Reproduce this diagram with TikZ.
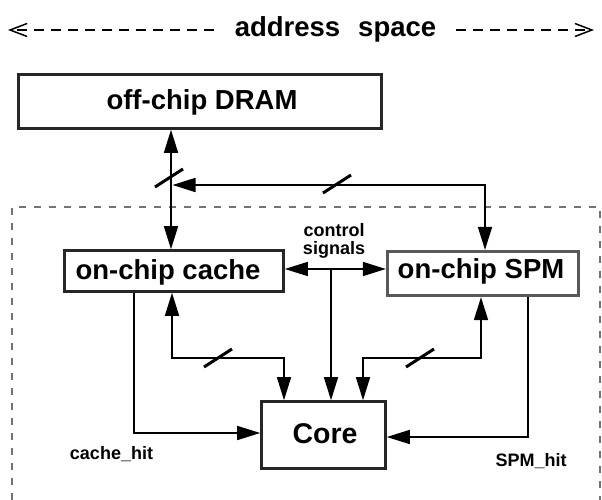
\documentclass[tikz,border=0pt]{standalone}
\usepackage{fontspec}
\setmainfont{Liberation Sans}
\usetikzlibrary{arrows.meta}
\begin{document}
\begin{tikzpicture}[x=1pt,y=-1pt,
  box/.style={draw=black!85, line width=2.6pt, fill=white, inner sep=0pt},
  spmbox/.style={box, draw=black!65, line width=3.2pt},
  big/.style={font=\fontsize{27.5}{30}\selectfont\bfseries, inner sep=0pt, anchor=base},
  small/.style={font=\fontsize{18}{18}\selectfont\bfseries, inner sep=0pt, align=center},
  conn/.style={line width=1.6pt},
  tipend/.style={-{Triangle[length=23pt,width=14pt]}},
  tipboth/.style={{Triangle[length=23pt,width=14pt]}-{Triangle[length=23pt,width=14pt]}},
  slashmark/.style={line width=3pt},
  frame/.style={draw=black!55, line width=1.1pt, dash pattern=on 7pt off 8pt},
  spacearrow/.style={line width=1.5pt, dash pattern=on 10pt off 7pt, -{Straight Barb[length=17pt,width=13pt,line width=1.5pt]}},
]
\useasboundingbox (0,0) rectangle (602,500);

% dashed frame (address space on chip)
\draw[frame] (12,500) -- (12,207) -- (600,207) -- (600,500);

% title
\node[font=\fontsize{27.5}{30}\selectfont\bfseries, inner sep=0pt, anchor=base] (addr) at (335.5,37) {address\hspace{18pt}space};
\coordinate (lstart) at (214,30);
\coordinate (lend) at (8,30);
\coordinate (rstart) at (456,30);
\coordinate (rend) at (594,30);
\draw[spacearrow] (lstart) -- (lend);
\draw[spacearrow] (rstart) -- (rend);

% boxes
\node[box, minimum width=363pt, minimum height=54pt] (dram) at (200,101.5) {};
\node[big] (dramtext) at (202,110) {off-chip DRAM};

\node[box, minimum width=219pt, minimum height=41pt] (cache) at (174,271) {};
\node[big] (cachetext) at (168,279) {on-chip cache};

\node[spmbox, minimum width=191pt, minimum height=44pt] (spm) at (483,273.5) {};
\node[big] (spmtext) at (481,278) {on-chip SPM};

\node[box, minimum width=124pt, minimum height=67pt] (core) at (323.5,435) {};
\node[big, font=\fontsize{28.5}{30}\selectfont\bfseries] (coretext) at (325,443) {Core};

% labels
\node[small] (ctltext) at (334,241) {control\\signals};
\node[small, anchor=base] (hitc) at (111.5,459) {cache\_hit};
\node[small, anchor=base] (hits) at (531,466) {SPM\_hit};

% DRAM <-> cache
\coordinate (vd) at (171,185);
\draw[conn, tipboth] (vd |- dram.south) -- (vd |- cache.north);
% SPM feed into the DRAM bus
\coordinate (jn) at (172.5,185);
\coordinate (sc) at (485,185);
\draw[conn, tipboth] (jn) -- (sc) -- (sc |- spm.north);

% control signals
\coordinate (ctl) at (331,269);
\draw[conn, tipboth] (ctl -| cache.east) -- (ctl -| spm.west);
\draw[conn, tipend] (ctl) -- (ctl |- core.north);

% cache <-> core
\coordinate (cc1) at (172,358);
\coordinate (cc2) at (284,358);
\draw[conn, tipboth] (cc1 |- cache.south) -- (cc1) -- (cc2) -- (cc2 |- core.north);

% cache_hit
\coordinate (ch) at (134,433);
\draw[conn, tipend] (ch |- cache.south) -- (ch) -- (ch -| core.west);

% SPM <-> core
\coordinate (sc1) at (481,358);
\coordinate (sc2) at (363,358);
\draw[conn, tipboth] (sc1 |- spm.south) -- (sc1) -- (sc2) -- (sc2 |- core.north);

% SPM_hit
\coordinate (sh) at (528,437);
\draw[conn, tipend] (sh |- spm.south) -- (sh) -- (sh -| core.east);

% bus width slashes
\coordinate (s1) at (169,178);
\coordinate (s2) at (337,184);
\coordinate (s3) at (218,358);
\coordinate (s4) at (420,358);
\foreach \s in {s1,s2,s3,s4}
  \draw[slashmark] (\s) ++(-14,9) -- ++(28,-18);
\end{tikzpicture}
\end{document}
